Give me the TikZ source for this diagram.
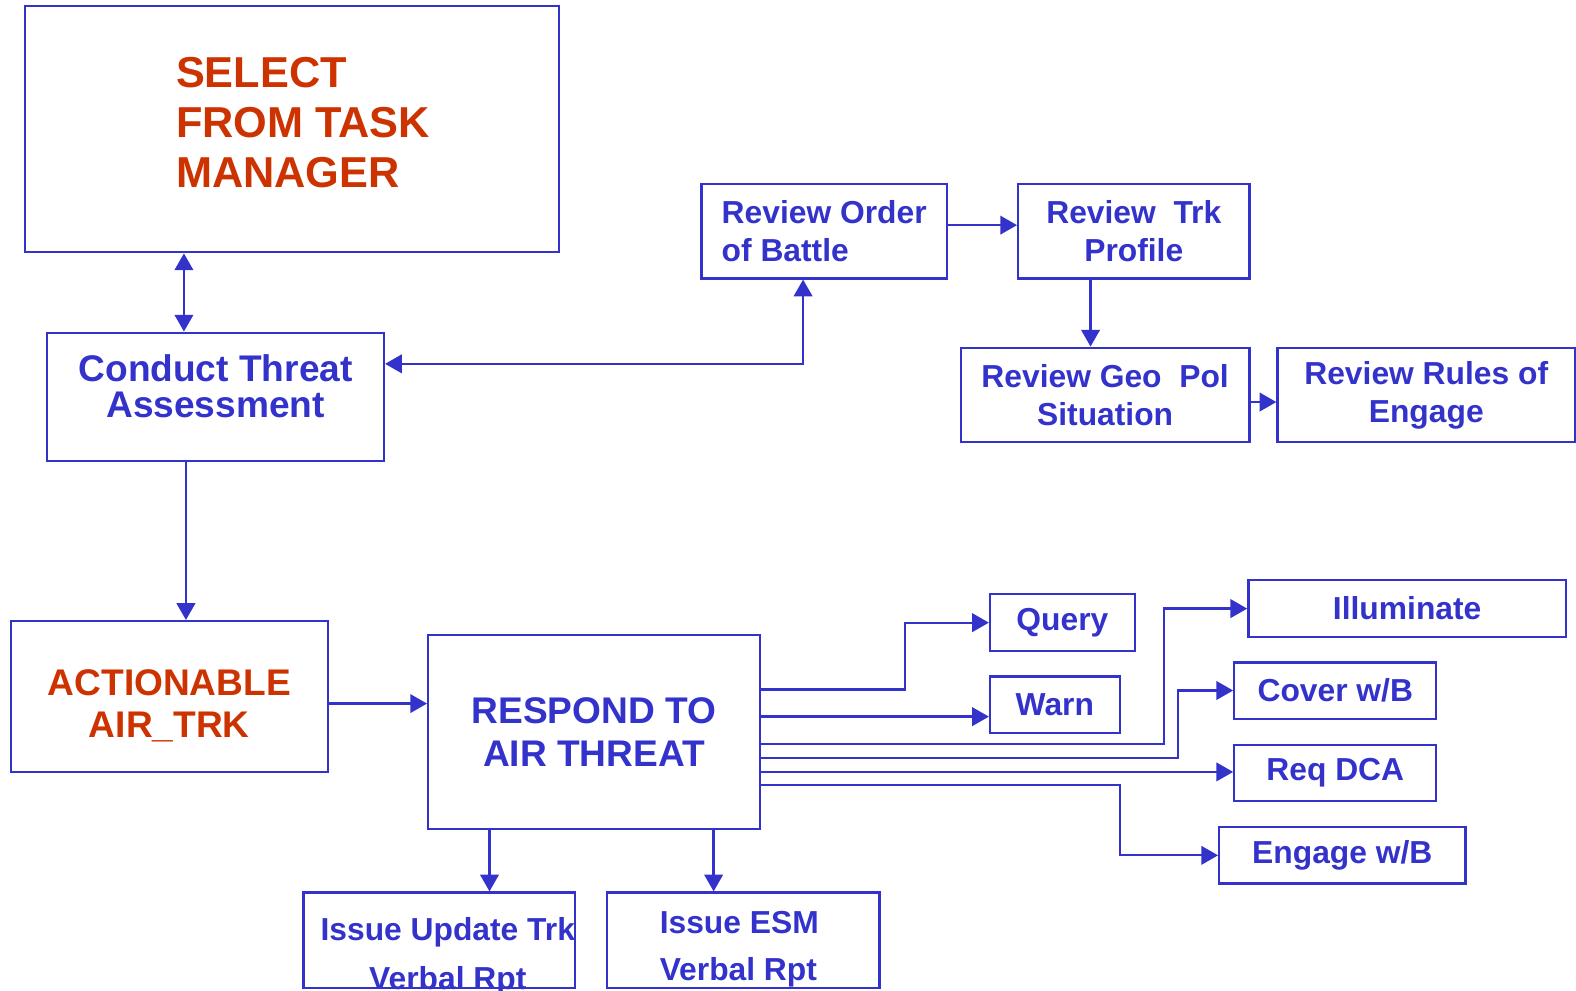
\documentclass[tikz,border=0pt]{standalone}
\usepackage{fontspec}
\setmainfont{Liberation Sans}
\usepackage{tikz}
\usetikzlibrary{positioning, arrows.meta}
\definecolor{tblue}{RGB}{51,51,204}
\definecolor{tred}{RGB}{204,51,0}

\begin{document}
\begin{tikzpicture}
	[on grid, color=tblue, line width=1.3pt, >={Triangle[length=9.5pt,width=10.5pt]},
	 box/.style={draw=tblue, line width=1.3pt, inner sep=0pt, align=center, text=tblue,
	   font=\bfseries\fontsize{18}{21.6}\selectfont},
	 big/.style={box, font=\bfseries\fontsize{21}{24}\selectfont},
	 hot/.style={big, text=tred},
	 tag/.style={inner sep=0pt, align=center, text=tblue}]
   \useasboundingbox (0,0) rectangle (31.36,-19.70);
   \node[hot, minimum width=10.62cm, minimum height=4.9cm,
     label={[tag, text=tred, align=left, xshift=2.2mm, yshift=1.3mm,
       font=\bfseries\fontsize{24.5}{28.5}\selectfont]center:{SELECT\\FROM TASK\\MANAGER}}] (b_1) at (5.81,-2.57) {};
   \node[big, minimum width=6.7cm, minimum height=2.56cm,
     label={[tag, yshift=2.2mm, font=\bfseries\fontsize{21}{20.5}\selectfont]center:{Conduct Threat\\Assessment}}] (b_2) [below left=5.33 and 1.52 of b_1] {};
   \node[hot, minimum width=6.3cm, minimum height=3cm,
     label={[tag, text=tred, yshift=-1.8mm, font=\bfseries\fontsize{21}{24}\selectfont]center:{ACTIONABLE\\AIR\_TRK}}] (b_3) [below left=5.96 and 0.92 of b_2] {};
   \node[big, minimum width=6.6cm, minimum height=3.86cm] (b_4) [below right=0.71 and 8.45 of b_3] {RESPOND TO\\AIR THREAT};
   \node[box, minimum width=4.88cm, minimum height=1.88cm, align=left] (b_5) [below right=2.03 and 10.59 of b_1] {Review Order\\of Battle};
   \node[box, minimum width=4.6cm, minimum height=1.88cm] (b_6) [right=6.16 of b_5] {Review~~Trk\\Profile};
   \node[box, minimum width=5.74cm, minimum height=1.88cm] (b_7) [below left=3.26 and 0.57 of b_6] {Review Geo~~Pol\\Situation};
   \node[box, minimum width=5.92cm, minimum height=1.88cm] (b_8) [right=6.39 of b_7] {Review Rules of\\Engage};
   \node[box, minimum width=2.88cm, minimum height=1.14cm] (b_9) [above right=2.18 and 9.32 of b_4] {Query};
   \node[box, minimum width=2.58cm, minimum height=1.12cm] (b_10) [below left=1.63 and 0.15 of b_9] {Warn};
   \node[box, minimum width=6.32cm, minimum height=1.14cm] (b_11) [above right=0.28 and 6.86 of b_9] {Illuminate};
   \node[box, minimum width=4.02cm, minimum height=1.12cm] (b_12) [below left=1.63 and 1.43 of b_11] {Cover w/B};
   \node[box, minimum width=4.02cm, minimum height=1.12cm] (b_13) [below=1.64 of b_12] {Req~DCA};
   \node[box, minimum width=4.9cm, minimum height=1.12cm] (b_14) [below right=1.64 and 0.14 of b_13] {Engage w/B};
   \node[box, minimum width=5.4cm, minimum height=1.9cm,
     label={[tag, xshift=1.7mm, yshift=-3.3mm, font=\bfseries\fontsize{18}{28}\selectfont]center:{Issue Update Trk\\Verbal Rpt}}] (b_15) [below left=4.14 and 3.08 of b_4] {};
   \node[box, minimum width=5.42cm, minimum height=1.9cm,
     label={[tag, align=left, xshift=-0.8mm, yshift=-1.8mm, font=\bfseries\fontsize{18}{27}\selectfont]center:{Issue ESM\\Verbal Rpt}}] (b_16) [right=6.05 of b_15] {};
   \draw[<->] ([xshift=-6.3mm]b_2.north) -- ([xshift=-6.3mm]b_2.north |- b_1.south);
   \draw[->] ([xshift=3.3mm]b_3.north |- b_2.south) -- ([xshift=3.3mm]b_3.north);
   \draw[->] ([yshift=-1.4mm]b_3.east) -- ([yshift=-1.4mm]b_3.east -| b_4.west);
   \draw[<->] ([xshift=-4.2mm]b_5.south) |- ([yshift=6.6mm]b_2.east);
   \draw[->] ([yshift=1.2mm]b_5.east) -- ([yshift=1.2mm]b_6.west);
   \draw[->] ([xshift=-8.6mm]b_6.south) -- ([xshift=-8.6mm]b_6.south |- b_7.north);
   \draw[->] ([yshift=-1.4mm]b_7.east) -- ([yshift=-1.4mm]b_8.west);
   \draw[->] ([yshift=8.5mm]b_4.east) -- ++(2.86,0) |- (b_9.west);
   \draw[->] ([yshift=3.1mm]b_4.east) -- ([yshift=3.1mm]b_4.east -| b_10.west);
   \draw[->] ([yshift=-2.3mm]b_4.east) -- ++(8.02,0) |- (b_11.west);
   \draw[->] ([yshift=-5.1mm]b_4.east) -- ++(8.30,0) |- (b_12.west);
   \draw[->] ([yshift=-7.9mm]b_4.east) -- ([yshift=-7.9mm]b_4.east -| b_13.west);
   \draw[->] ([yshift=-10.5mm]b_4.east) -- ++(7.14,0) |- (b_14.west);
   \draw[->] ([xshift=-20.8mm]b_4.south) -- ([xshift=-20.8mm]b_4.south |- b_15.north);
   \draw[->] ([xshift=23.8mm]b_4.south) -- ([xshift=23.8mm]b_4.south |- b_16.north);
\end{tikzpicture}
\end{document}
